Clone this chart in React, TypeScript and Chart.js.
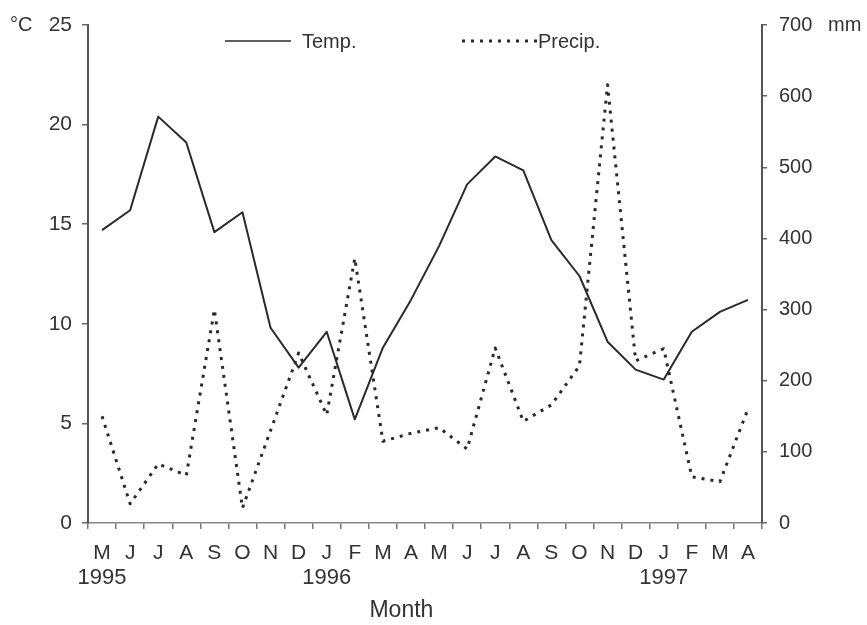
import React, { useEffect, useRef } from "react";
import { Chart, registerables } from "chart.js";

Chart.register(...registerables);

const months = ["M", "J", "J", "A", "S", "O", "N", "D", "J", "F", "M", "A", "M", "J", "J", "A", "S", "O", "N", "D", "J", "F", "M", "A"];
const yearRow = ["1995", "", "", "", "", "", "", "", "1996", "", "", "", "", "", "", "", "", "", "", "", "1997", "", "", ""];
const temp = [14.7, 15.7, 20.4, 19.1, 14.6, 15.6, 9.8, 7.8, 9.6, 5.2, 8.8, 11.2, 13.9, 17.0, 18.4, 17.7, 14.2, 12.4, 9.1, 7.7, 7.2, 9.6, 10.6, 11.2];
const precip = [150, 27, 83, 67, 300, 21, 130, 239, 152, 372, 115, 126, 134, 104, 246, 143, 166, 221, 616, 228, 245, 65, 58, 160];
const tempTicks = { min: 0, max: 25, step: 5 };
const precipTicks = { min: 0, max: 700, step: 100 };
const seriesNames = ["Temp.", "Precip."];
const unitLabels = ["°C", "mm"];
const axisTitle = "Month";

const FONT = "Arial, 'Liberation Sans', Helvetica, sans-serif";
const INK = "#2a2a2a";
const TEXT = "#333";

const overlay = {
  id: "overlay",
  afterDraw(chart: any) {
    const ctx = chart.ctx;
    const area = chart.chartArea;
    const xs = chart.scales.x;
    ctx.save();
    ctx.fillStyle = TEXT;
    ctx.textBaseline = "middle";
    // unit labels
    ctx.font = `20px ${FONT}`;
    ctx.textAlign = "left";
    ctx.fillText(unitLabels[0], 10, area.top);
    ctx.fillText(unitLabels[1], area.right + 66, area.top);
    // year row under month ticks
    ctx.font = `22px ${FONT}`;
    ctx.textAlign = "center";
    yearRow.forEach((y, i) => {
      if (y) ctx.fillText(y, xs.getPixelForTick(i), 578);
    });
    // x title
    ctx.font = `23px ${FONT}`;
    ctx.fillText(axisTitle, area.left + (area.right - area.left) * 0.465, 611);
    // legend
    const ly = 41;
    ctx.font = `20px ${FONT}`;
    ctx.textAlign = "left";
    const ds = chart.data.datasets;
    const items = [
      { x0: area.left + 137, x1: area.left + 203, tx: area.left + 214, d: ds[0] },
      { x0: area.left + 374, x1: area.left + 449, tx: area.left + 450, d: ds[1] },
    ];
    items.forEach((it) => {
      ctx.beginPath();
      ctx.strokeStyle = it.d.borderColor;
      ctx.lineWidth = it.d.borderDash ? it.d.borderWidth : 1.4;
      ctx.setLineDash(it.d.borderDash || []);
      ctx.moveTo(it.x0, ly);
      ctx.lineTo(it.x1, ly);
      ctx.stroke();
      ctx.setLineDash([]);
      ctx.fillStyle = TEXT;
      ctx.fillText(it.d.label, it.tx, ly + 1);
    });
    ctx.restore();
  },
};

export default function App() {
  const ref = useRef<HTMLCanvasElement | null>(null);
  useEffect(() => {
    if (!ref.current) return;
    const chart = new Chart(ref.current, {
      type: "line",
      data: {
        labels: months,
        datasets: [
          {
            label: seriesNames[0],
            data: temp,
            yAxisID: "y",
            borderColor: INK,
            borderWidth: 2,
            borderJoinStyle: "round",
            pointRadius: 0,
            tension: 0,
            fill: false,
          },
          {
            label: seriesNames[1],
            data: precip,
            yAxisID: "y1",
            borderColor: INK,
            borderWidth: 3,
            borderDash: [3, 6],
            borderCapStyle: "butt",
            borderJoinStyle: "round",
            pointRadius: 0,
            tension: 0,
            fill: false,
          },
        ],
      },
      options: {
        responsive: false,
        animation: false,
        layout: { padding: { top: 25, left: 0, right: 0, bottom: 0 } },
        plugins: { legend: { display: false }, tooltip: { enabled: false } },
        scales: {
          x: {
            type: "category",
            offset: true,
            grid: { offset: true, drawOnChartArea: false, drawTicks: true, tickLength: 6, color: "#777", lineWidth: 1.5 },
            border: { color: "#888", width: 1.5 },
            ticks: { font: { size: 21, family: FONT }, color: TEXT, padding: 12, maxRotation: 0, autoSkip: false },
            afterFit: (s: any) => { s.height = 102; },
          },
          y: {
            position: "left",
            min: tempTicks.min,
            max: tempTicks.max,
            grid: { drawOnChartArea: false, drawTicks: true, tickLength: 6, color: "#666", lineWidth: 1.5 },
            border: { color: "#555", width: 2 },
            ticks: { stepSize: tempTicks.step, font: { size: 21, family: FONT }, color: TEXT, padding: 10 },
            afterFit: (s: any) => { s.width = 88; },
          },
          y1: {
            position: "right",
            min: precipTicks.min,
            max: precipTicks.max,
            grid: { drawOnChartArea: false, drawTicks: true, tickLength: 5, color: "#666", lineWidth: 1.5 },
            border: { color: "#555", width: 2 },
            ticks: { stepSize: precipTicks.step, font: { size: 20, family: FONT }, color: TEXT, padding: 12 },
            afterFit: (s: any) => { s.width = 105; },
          },
        },
      },
      plugins: [overlay],
    });
    return () => chart.destroy();
  }, []);
  return (
    <div style={{ position: "absolute", left: 0, top: 0, width: 867, height: 625, background: "#fff" }}>
      <canvas ref={ref} width={867} height={625} />
    </div>
  );
}
